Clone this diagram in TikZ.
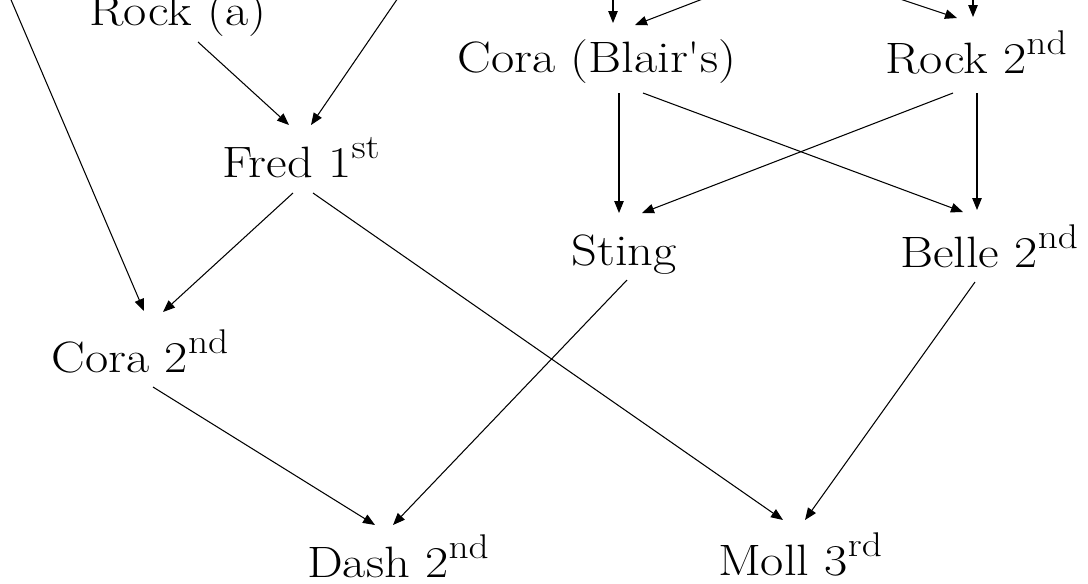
\documentclass[tikz,border=0pt]{standalone}
\usepackage{graphicx}
\usetikzlibrary{arrows.meta}

\newcommand{\nm}[1]{\scalebox{1.15}[1]{#1}}
\newcommand{\ordtext}[1]{\raisebox{0.42em}{\fontsize{19.5}{20}\selectfont #1}}

\begin{document}
\begin{tikzpicture}[x=0.02cm, y=-0.02cm,
    dog/.style={anchor=base, inner sep=0pt, font=\fontsize{25}{30}\selectfont},
    edge/.style={line width=0.6pt, -{Triangle[length=2.4mm, width=1.9mm]}}]
    % Visible part of the pedigree
    \path[use as bounding box, clip] (0,0) rectangle (1088,583);

    % Dogs
    \node[dog] (rocka) at (178,25) {\nm{Rock (a)}};
    \node[dog] (corab) at (597,72) {\nm{Cora (Blair\textquotesingle s)}};
    \node[dog] (rock2) at (976,73) {\nm{Rock 2\ordtext{nd}}};
    \node[dog] (fred) at (301,177) {\nm{Fred 1\ordtext{st}}};
    \node[dog] (sting) at (624,265) {\nm{Sting}};
    \node[dog] (belle) at (989,267) {\nm{Belle 2\ordtext{nd}}};
    \node[dog] (cora2) at (140,372) {\nm{Cora 2\ordtext{nd}}};
    \node[dog] (dash) at (398,577) {\nm{Dash 2\ordtext{nd}}};
    \node[dog] (moll) at (800,575) {\nm{Moll 3\ordtext{rd}}};

    % Parents above the cut
    \coordinate (upa) at (-6,-40);
    \coordinate (upb) at (424,-40);
    \coordinate (upc) at (613,-40);
    \coordinate (upd) at (804,-40);
    \coordinate (upe) at (783,-40);
    \coordinate (upf) at (973,-40);

    \draw[edge] (upa) -- ([shift={(4,-61)}]cora2.base);
    \draw[edge] (upb) -- ([shift={(10,-52)}]fred.base);
    \draw[edge] (upc) -- ([shift={(16,-49)}]corab.base);
    \draw[edge] (upd) -- ([shift={(38,-47)}]corab.base);
    \draw[edge] (upe) -- ([shift={(-19,-55)}]rock2.base);
    \draw[edge] (upf) -- ([shift={(-3,-56)}]rock2.base);

    % Sire and dam lines
    \draw[edge] ([shift={(20,17)}]rocka.base) -- ([shift={(-12,-52)}]fred.base);
    \draw[edge] ([shift={(22,21)}]corab.base) -- ([shift={(-5,-52)}]sting.base);
    \draw[edge] ([shift={(46,21)}]corab.base) -- ([shift={(-26,-55)}]belle.base);
    \draw[edge] ([shift={(-23,20)}]rock2.base) -- ([shift={(18,-52)}]sting.base);
    \draw[edge] ([shift={(1,20)}]rock2.base) -- ([shift={(-12,-57)}]belle.base);
    \draw[edge] ([shift={(-8,16)}]fred.base) -- ([shift={(23,-60)}]cora2.base);
    \draw[edge] ([shift={(12,16)}]fred.base) -- ([shift={(-17,-55)}]moll.base);
    \draw[edge] ([shift={(13,15)}]cora2.base) -- ([shift={(-23,-52)}]dash.base);
    \draw[edge] ([shift={(3,15)}]sting.base) -- ([shift={(-5,-52)}]dash.base);
    \draw[edge] ([shift={(-14,15)}]belle.base) -- ([shift={(5,-55)}]moll.base);
\end{tikzpicture}
\end{document}
